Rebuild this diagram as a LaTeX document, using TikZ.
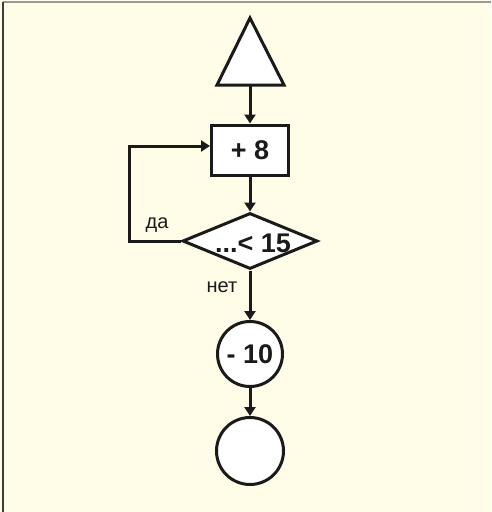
\documentclass[tikz,border=0pt]{standalone}
\usepackage{fontspec}
\setmainfont{Liberation Sans}
\usetikzlibrary{shapes.geometric,arrows.meta}
\definecolor{bg}{HTML}{FFFCE8}
\definecolor{ink}{HTML}{1A1A1A}
\begin{document}
\begin{tikzpicture}[x=1pt,y=-1pt,
  flow/.style={line width=3pt,draw=ink},
  arr/.style={flow,-{Triangle[width=11pt,length=9pt]}},
  bigtxt/.style={font=\fontsize{27}{27}\selectfont\bfseries,text=ink,inner sep=0},
  lbl/.style={font=\fontsize{20}{20}\selectfont,text=ink,inner sep=0}]
\fill[bg] (0,0) rectangle (491,512);
\useasboundingbox (0,0) rectangle (491,512);
\draw[line width=2pt,color=gray!80] (3,2) -- (491,2);
\draw[line width=2pt,color=ink!85] (3,2) -- (3,512);
% start triangle
\coordinate (ta) at (250,18);
\coordinate (tl) at (217,85);
\coordinate (tr) at (284,85);
\coordinate (tb) at (250,85);
\draw[flow,fill=white,line join=miter] (ta) -- (tl) -- (tr) -- cycle;
% box
\node[flow,fill=white,rectangle,minimum width=77pt,minimum height=50pt,inner sep=0] (box) at (250,150) {};
\node[bigtxt] (boxt) at (box.center) {+ 8};
% diamond
\node[flow,fill=white,diamond,aspect=2.4,minimum width=135pt,minimum height=56pt,inner sep=0] (dec) at (250,241) {};
\node[bigtxt,anchor=center] (dect) at (253,243) {...< 15};
% circles
\node[flow,fill=white,circle,minimum size=65pt,inner sep=0] (c1) at (250,354) {};
\node[bigtxt] (c1t) at (c1.center) {- 10};
\node[flow,fill=white,circle,minimum size=67pt,inner sep=0] (c2) at (250,451) {};
% connectors
\draw[arr] (tb) -- (box.north);
\draw[arr] (box.south) -- (dec.north);
\coordinate (lb) at (129,241);
\coordinate (lt) at (129,146);
\coordinate (bw) at (box.west |- lt);
\draw[arr,line join=miter] (dec.west) -- (lb) -- (lt) -- (bw);
\draw[arr] (dec.south) -- (c1.north);
\draw[arr] (c1.south) -- (c2.north);
% labels
\node[lbl] (yes) at (157,225) {да};
\node[lbl] (no) at (222,287) {нет};
\end{tikzpicture}
\end{document}
